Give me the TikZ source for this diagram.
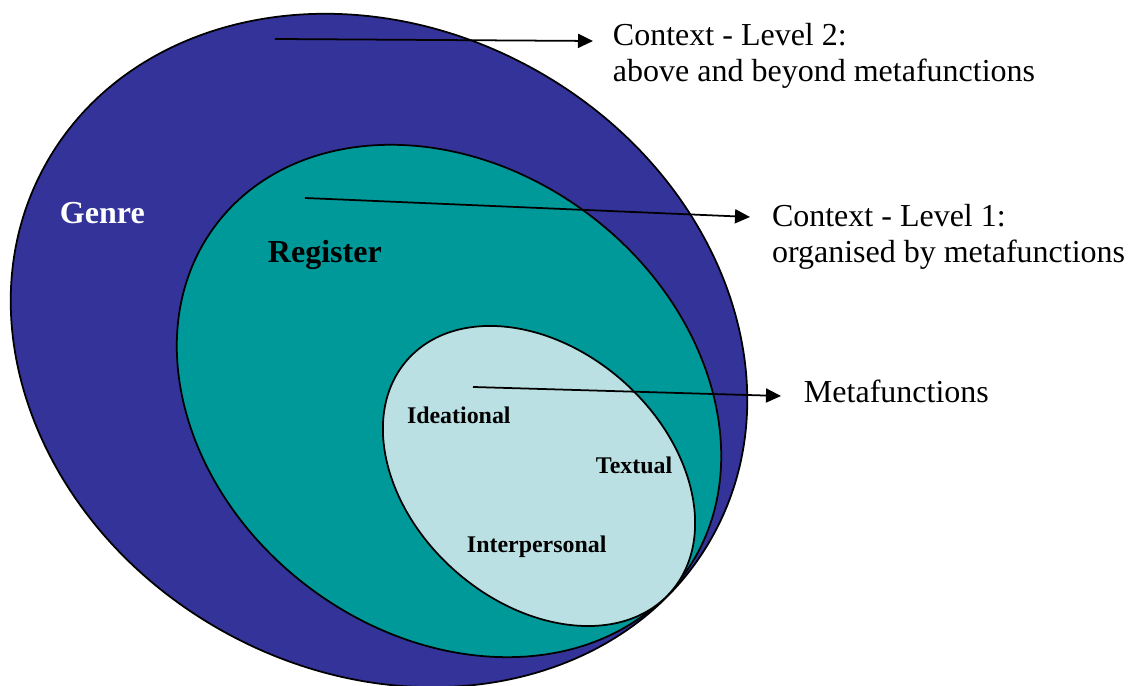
\documentclass[tikz,border=0pt]{standalone}
\usepackage{fontspec}
\setmainfont{Liberation Serif}
\usetikzlibrary{shapes.geometric, arrows.meta}

\definecolor{genreblue}{RGB}{51,51,153}
\definecolor{registerteal}{RGB}{0,153,153}
\definecolor{metalight}{RGB}{187,224,227}

\begin{document}
\begin{tikzpicture}[
    x=0.01cm, y=-0.01cm,
    % --- node styles ---
    layer/.style={ellipse, draw=black, line width=0.5pt, inner sep=0pt},
    ctx/.style={anchor=text, align=left, inner sep=0pt,
        font=\fontsize{9.1pt}{10.5pt}\selectfont},
    big/.style={anchor=text, inner sep=0pt,
        font=\fontsize{9.1pt}{10.5pt}\selectfont\bfseries},
    small/.style={anchor=text, inner sep=0pt,
        font=\fontsize{6.8pt}{8pt}\selectfont\bfseries},
    % --- arrow style ---
    arr/.style={-{Triangle[length=0.15cm, width=0.14cm]}, line width=0.5pt}
]
\useasboundingbox (0,0) rectangle (1141,686);

%%% ================= NESTED LAYERS =================
\node (genre) [layer, fill=genreblue, minimum width=7.632cm,
    minimum height=6.42cm, rotate=-29.3] at (379,350.5) {};
\node (register) [layer, fill=registerteal, minimum width=5.84cm,
    minimum height=4.66cm, rotate=-37.1] at (449,401) {};
\node (meta) [layer, fill=metalight, minimum width=3.51cm,
    minimum height=2.532cm, rotate=-41.4] at (539,476) {};

%%% ================= LAYER LABELS =================
\node (genre-lbl) [big, text=white] at (60,224) {Genre};
\node (register-lbl) [big] at (268,263) {Register};
\node (ideational) [small] at (407,424) {Ideational};
\node (textual) [small] at (596,474) {Textual};
\node (interpersonal) [small] at (467,553) {Interpersonal};

%%% ================= CONTEXT TEXTS =================
%% (text anchor sits on the baseline of the last line)
\node (ctx2) [ctx] at (613,82)
    {Context - Level 2:\\above and beyond metafunctions};
\node (ctx1) [ctx] at (772,263)
    {Context - Level 1:\\organised by metafunctions};
\node (mf) [ctx] at (804,403) {Metafunctions};

%%% ================= ARROWS =================
\coordinate (genre-src) at (275,39);
\coordinate (register-src) at (305,198);
\coordinate (meta-src) at (473,387);

\draw [arr] (genre-src) -- ([shift={(-20,-41)}]ctx2.text);
\draw [arr] (register-src) -- ([shift={(-22,-46)}]ctx1.text);
\draw [arr] (meta-src) -- ([shift={(-23,-7)}]mf.text);

\end{tikzpicture}
\end{document}
